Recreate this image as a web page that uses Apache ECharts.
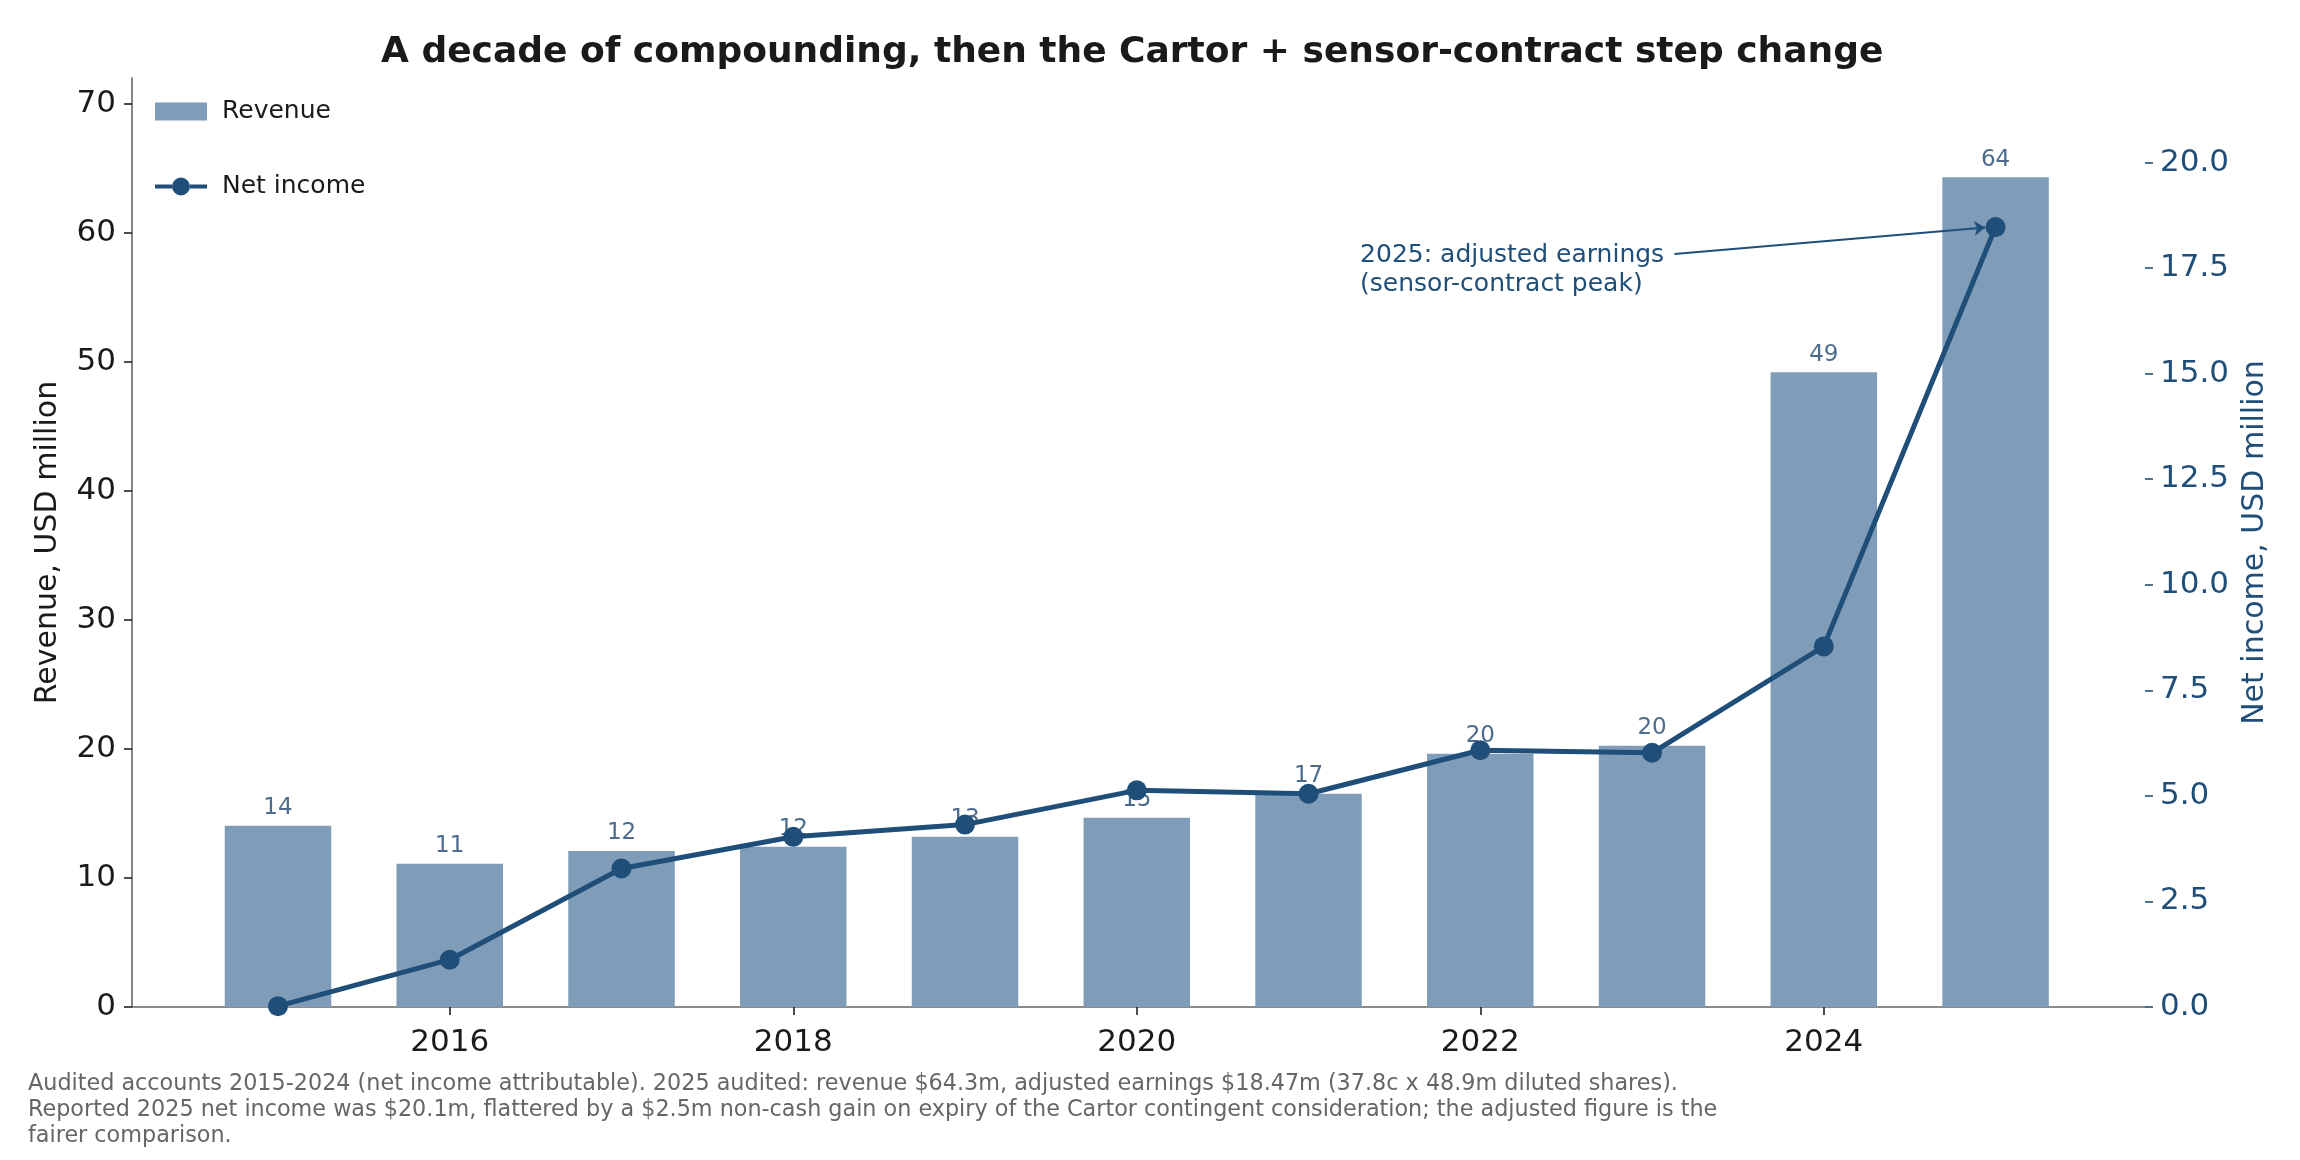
<!DOCTYPE html>
<html>
<head>
<meta charset="utf-8">
<title>Revenue and net income</title>
<script src="https://cdn.jsdelivr.net/npm/echarts@6/dist/echarts.min.js"></script>
<style>
  html, body { margin: 0; padding: 0; background: #fff; }
  #chart { width: 2300px; height: 1160px; }
</style>
</head>
<body>
<div id="chart"></div>
<script>
// values, USD million
const years = [2015, 2016, 2017, 2018, 2019, 2020, 2021, 2022, 2023, 2024, 2025]
const revenue = [14.05, 11.1, 12.1, 12.42, 13.19, 14.67, 16.53, 19.62, 20.25, 49.2, 64.3]
const netIncome = [0.02, 1.12, 3.28, 4.03, 4.32, 5.13, 5.05, 6.08, 6.02, 8.54, 18.47]

const yearTicks = [2016, 2018, 2020, 2022, 2024]
const revenueTicks = [0, 10, 20, 30, 40, 50, 60, 70]
const incomeTicks = [0, 2.5, 5, 7.5, 10, 12.5, 15, 17.5, 20]

const titleText = 'A decade of compounding, then the Cartor + sensor-contract step change'
const noteLines = [
  'Audited accounts 2015-2024 (net income attributable). 2025 audited: revenue $64.3m, adjusted earnings $18.47m (37.8c x 48.9m diluted shares).',
  'Reported 2025 net income was $20.1m, flattered by a $2.5m non-cash gain on expiry of the Cartor contingent consideration; the adjusted figure is the',
  'fairer comparison.'
]
const annotationText = '2025: adjusted earnings\n(sensor-contract peak)'
// annotation anchors in data space (year, net income)
const annotationAt = [2021.3, 18.14]
const arrowFrom = [2023.13, 17.83]
const arrowTo = [2024.94, 18.46]

const BAR = '#7f9db9'
const LINE = '#1f4e79'
const FONT = 'DejaVu Sans'

// line-with-dot legend glyph, like the matplotlib handle
const lineIcon = 'path://M0,7 H17 V11 H0 Z M35,7 H52 V11 H35 Z M17,9 A9,9 0 1,1 35,9 A9,9 0 1,1 17,9 Z'

const grid = { left: 132, right: 155, top: 78, bottom: 153 }
const xMin = 2014.15
const xMax = 2025.87

const el = document.getElementById('chart')
const chart = echarts.init(el)
const barPx = (el.clientWidth - grid.left - grid.right) / (xMax - xMin) * 0.62

chart.setOption({
  animation: false,
  textStyle: { fontFamily: FONT },
  title: {
    text: titleText,
    left: 381,
    top: 35,
    padding: 0,
    textStyle: { fontSize: 36, fontWeight: 'bold', color: '#1a1a1a', fontFamily: FONT }
  },
  legend: {
    orient: 'vertical',
    left: 155,
    top: 99,
    padding: 0,
    itemWidth: 52,
    itemHeight: 18,
    itemGap: 50,
    textStyle: { fontSize: 25, color: '#1a1a1a', padding: [0, 0, 0, 10] },
    data: [
      { name: 'Revenue', icon: 'rect' },
      { name: 'Net income', icon: lineIcon }
    ]
  },
  grid: { ...grid, outerBoundsMode: 'none' },
  xAxis: {
    type: 'value',
    min: xMin,
    max: xMax,
    splitLine: { show: false },
    axisLine: { lineStyle: { color: '#666', width: 1.6 } },
    axisTick: { length: 8, customValues: yearTicks, lineStyle: { color: '#222', width: 1.6 } },
    axisLabel: { customValues: yearTicks, margin: 20, fontSize: 31, color: '#1a1a1a', formatter: v => String(v) }
  },
  yAxis: [
    {
      type: 'value',
      min: 0,
      max: 72,
      name: 'Revenue, USD million',
      nameLocation: 'middle',
      nameGap: 69,
      nameTextStyle: { fontSize: 30, color: '#1a1a1a' },
      splitLine: { show: false },
      axisLine: { show: true, lineStyle: { color: '#666', width: 1.6 } },
      axisTick: { show: true, length: 8, customValues: revenueTicks, lineStyle: { color: '#222', width: 1.6 } },
      axisLabel: { customValues: revenueTicks, margin: 16, fontSize: 31, color: '#1a1a1a', padding: [6, 0, 0, 0] }
    },
    {
      type: 'value',
      position: 'right',
      min: 0,
      max: 22,
      name: 'Net income, USD million',
      nameLocation: 'middle',
      nameGap: 82,
      nameTextStyle: { fontSize: 30, color: LINE },
      splitLine: { show: false },
      axisLine: { show: false },
      axisTick: { show: true, length: 8, customValues: incomeTicks, lineStyle: { color: LINE, width: 1.6 } },
      axisLabel: { customValues: incomeTicks, margin: 15, fontSize: 31, color: LINE, padding: [6, 0, 0, 0], formatter: v => v.toFixed(1) }
    }
  ],
  series: [
    {
      name: 'Revenue',
      type: 'bar',
      xAxisIndex: 0,
      yAxisIndex: 0,
      barWidth: barPx,
      itemStyle: { color: BAR },
      label: {
        show: true,
        position: 'top',
        distance: 6,
        fontSize: 23,
        color: '#4d6b8c',
        formatter: p => Math.round(p.value[1])
      },
      data: years.map((y, i) => [y, revenue[i]]),
      z: 2
    },
    {
      name: 'Net income',
      type: 'line',
      xAxisIndex: 0,
      yAxisIndex: 1,
      symbol: 'circle',
      symbolSize: 20,
      itemStyle: { color: LINE },
      lineStyle: { color: LINE, width: 5 },
      data: years.map((y, i) => [y, netIncome[i]]),
      z: 3,
      markLine: {
        silent: true,
        symbol: ['none', 'arrow'],
        symbolSize: 11,
        label: { show: false },
        lineStyle: { color: LINE, width: 2, type: 'solid' },
        data: [[{ coord: arrowFrom }, { coord: arrowTo }]]
      }
    }
  ]
})

const at = chart.convertToPixel({ xAxisIndex: 0, yAxisIndex: 1 }, annotationAt)
chart.setOption({
  graphic: [
    {
      type: 'text',
      left: at[0],
      top: at[1],
      style: { text: annotationText, font: '25px "DejaVu Sans"', fill: LINE, lineHeight: 29 }
    },
    {
      type: 'text',
      left: 28,
      top: 1071,
      style: { text: noteLines.join('\n'), font: '22.3px "DejaVu Sans"', fill: '#666', lineHeight: 26 }
    }
  ]
})

window.addEventListener('resize', () => chart.resize())
</script>
</body>
</html>
